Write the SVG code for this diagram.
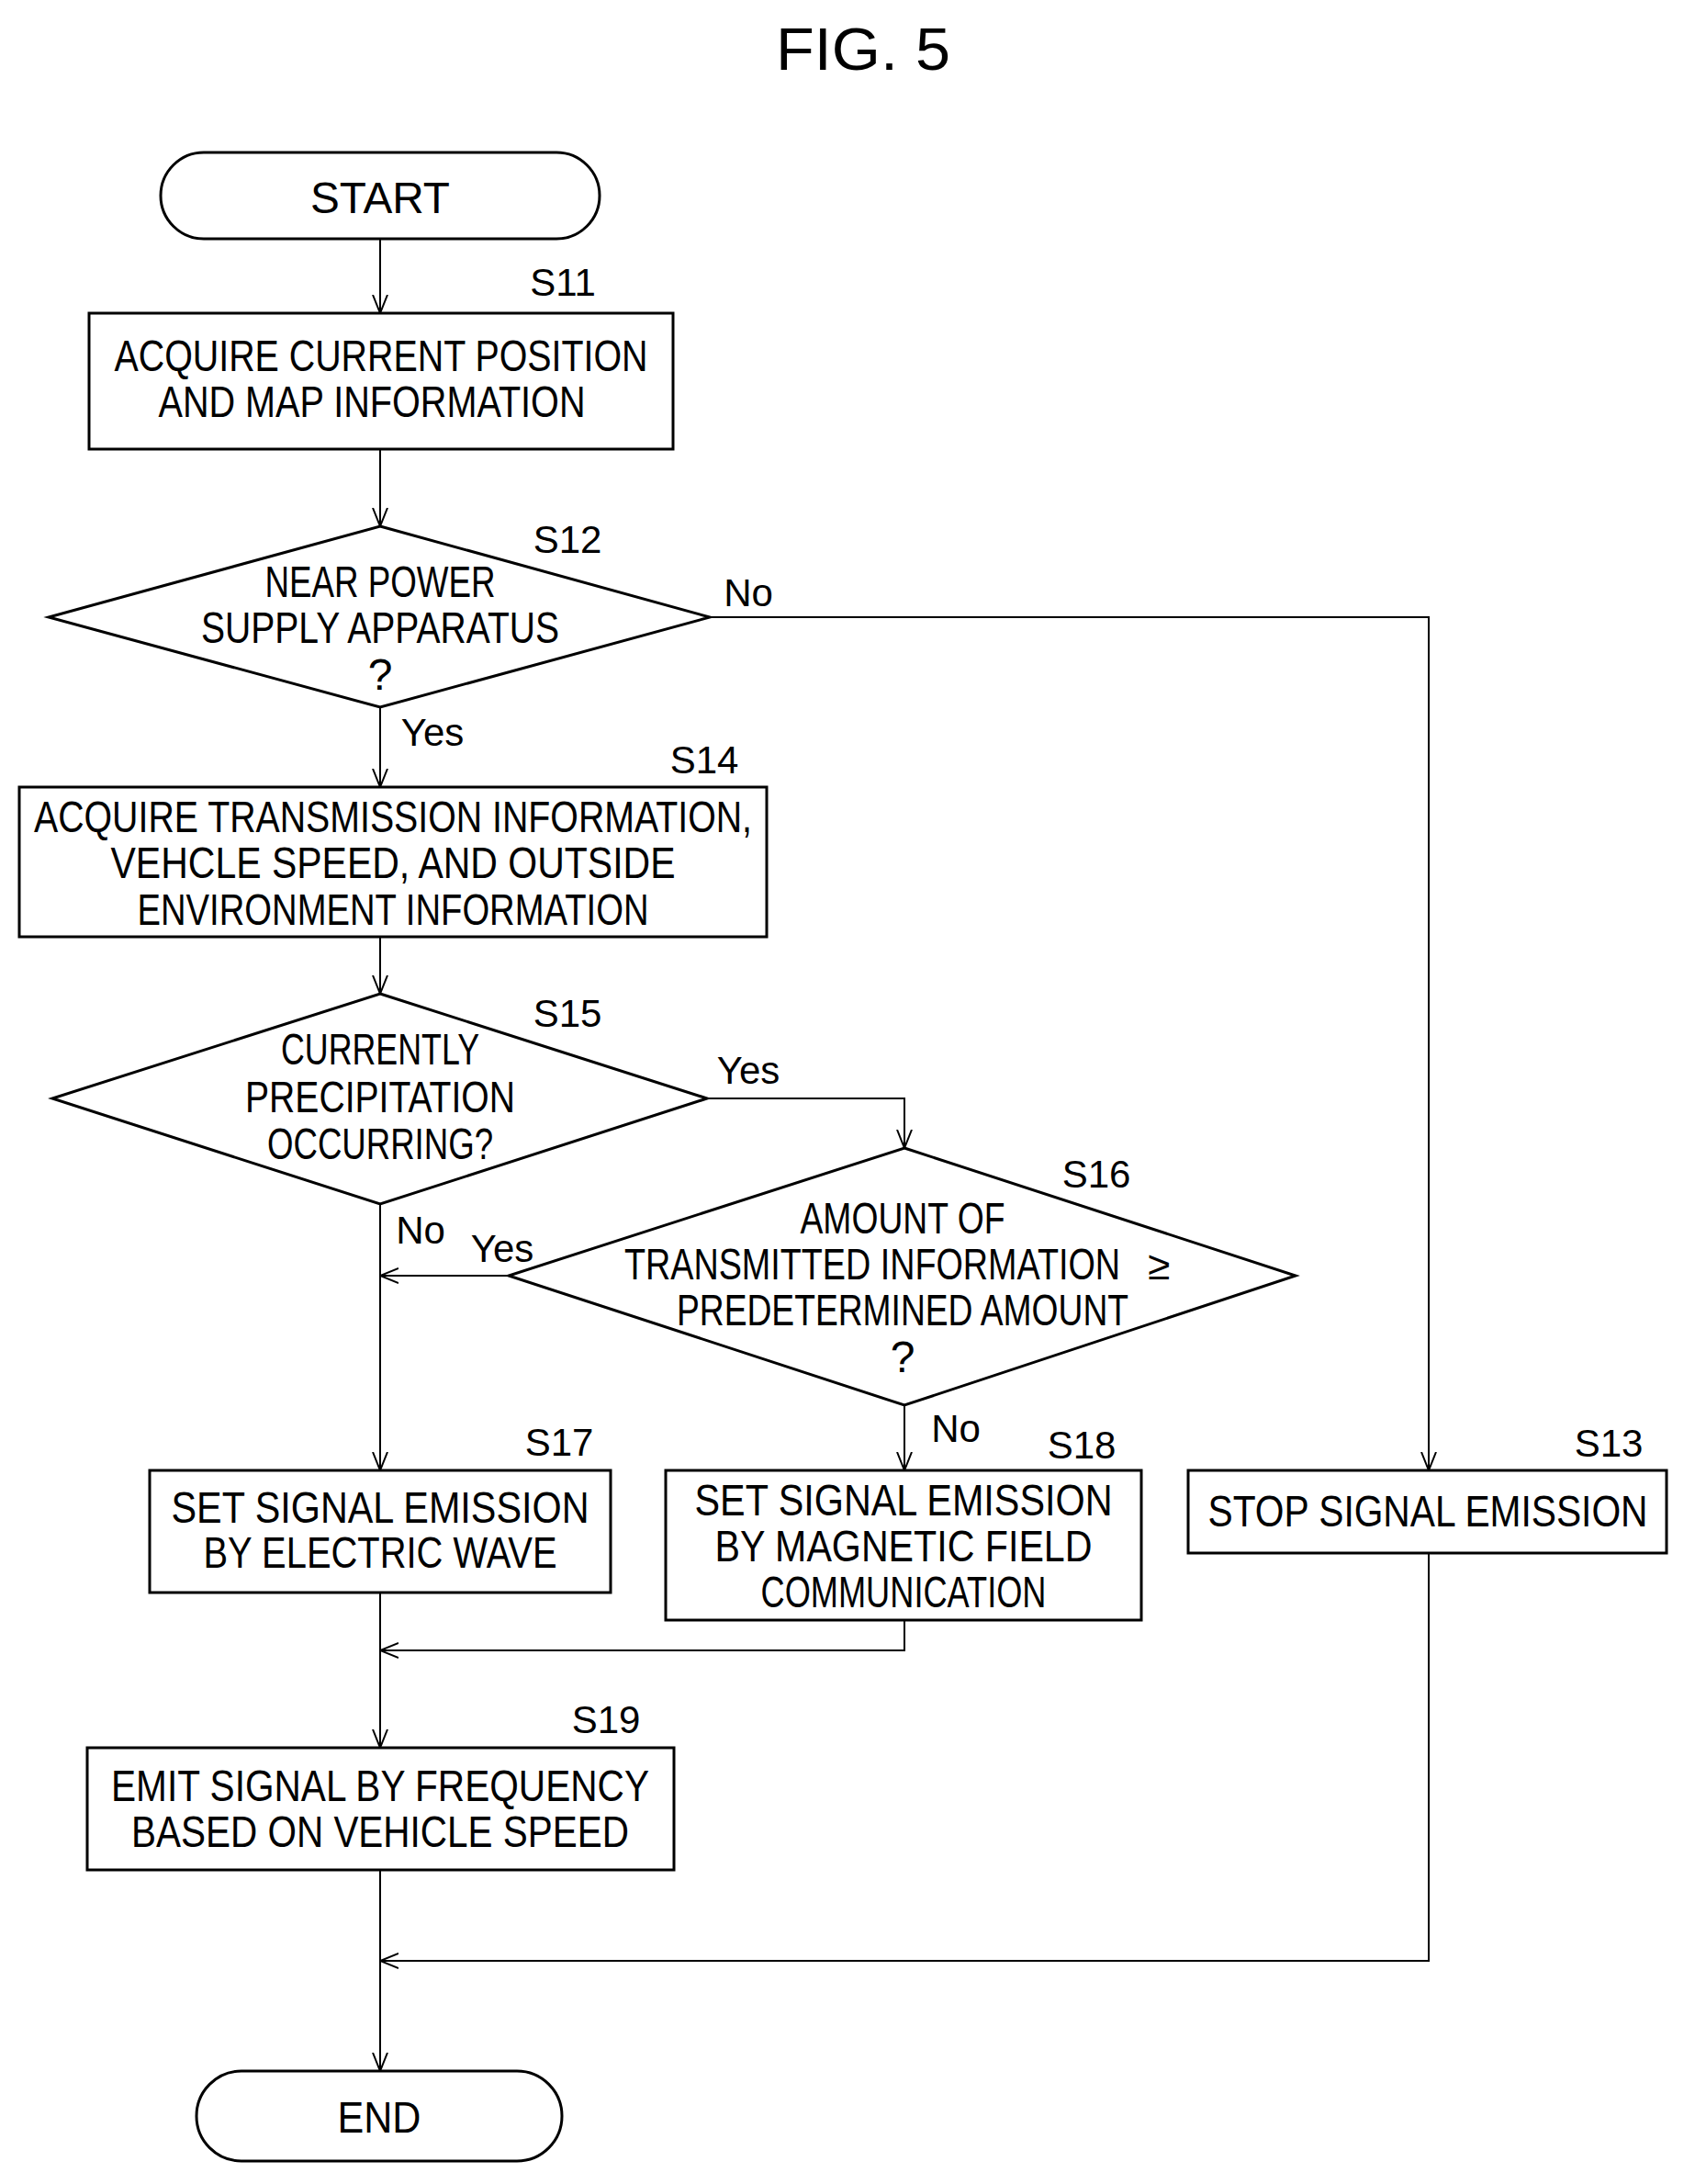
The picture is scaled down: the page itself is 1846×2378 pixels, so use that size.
<svg xmlns="http://www.w3.org/2000/svg" width="1846" height="2378" viewBox="0 0 1846 2378">
<defs>
<marker id="ah" viewBox="0 0 20 20" refX="20" refY="10" markerWidth="20" markerHeight="20" markerUnits="userSpaceOnUse" orient="auto"><path d="M0,2 L20,10 L0,18" fill="none" stroke="#000" stroke-width="2"/></marker>
<style>
.s{fill:#fff;stroke:#000;stroke-width:3}
.t{font-family:"Liberation Sans",Arial,sans-serif;font-size:48px;text-anchor:middle;fill:#000}
.l{font-family:"Liberation Sans",Arial,sans-serif;font-size:42px;text-anchor:middle;fill:#000}
.c{fill:none;stroke:#000;stroke-width:2;marker-end:url(#ah)}
.p{fill:none;stroke:#000;stroke-width:2}
</style>
</defs>
<rect width="1846" height="2378" fill="#fff"/>
<text class="t" x="940" y="76" style="font-size:64px" textLength="190" lengthAdjust="spacingAndGlyphs">FIG. 5</text>
<g id="connectors">
<path class="c" d="M414,260 V341"/>
<path class="c" d="M414,489 V573"/>
<path class="c" d="M414,770 V857"/>
<path class="c" d="M773,672 H1556 V1601"/>
<path class="c" d="M414,1020 V1082"/>
<path class="c" d="M770,1196 H985 V1250"/>
<path class="c" d="M554,1389 H414"/>
<path class="c" d="M414,1311 V1601"/>
<path class="c" d="M985,1530 V1601"/>
<path class="c" d="M985,1764 V1797 H414"/>
<path class="c" d="M414,1734 V1903"/>
<path class="c" d="M1556,1691 V2135 H414"/>
<path class="c" d="M414,2036 V2255"/>
<text class="l" x="815" y="660">No</text>
<text class="l" x="471" y="812">Yes</text>
<text class="l" x="815" y="1180">Yes</text>
<text class="l" x="547" y="1374">Yes</text>
<text class="l" x="458" y="1354">No</text>
<text class="l" x="1041" y="1570">No</text>
</g>
<g id="start"><rect class="s" x="175" y="166" width="478" height="94" rx="47"/><text class="t" x="414" y="232" textLength="152" lengthAdjust="spacingAndGlyphs">START</text></g>
<g id="s11"><rect class="s" x="97" y="341" width="636" height="148"/><text class="l" x="613" y="322">S11</text>
<text class="t" x="415" y="404" textLength="581" lengthAdjust="spacingAndGlyphs">ACQUIRE CURRENT POSITION</text>
<text class="t" x="405" y="454" textLength="465" lengthAdjust="spacingAndGlyphs">AND MAP INFORMATION</text></g>
<g id="s12"><polygon class="s" points="414,573 773,672 414,770 53,672"/><text class="l" x="618" y="602">S12</text>
<text class="t" x="414" y="650" textLength="251" lengthAdjust="spacingAndGlyphs">NEAR POWER</text>
<text class="t" x="414" y="700" textLength="390" lengthAdjust="spacingAndGlyphs">SUPPLY APPARATUS</text>
<text class="t" x="414" y="751">?</text></g>
<g id="s14"><rect class="s" x="21" y="857" width="814" height="163"/><text class="l" x="767" y="842">S14</text>
<text class="t" x="428" y="906" textLength="782" lengthAdjust="spacingAndGlyphs">ACQUIRE TRANSMISSION INFORMATION,</text>
<text class="t" x="428" y="956" textLength="615" lengthAdjust="spacingAndGlyphs">VEHCLE SPEED, AND OUTSIDE</text>
<text class="t" x="428" y="1007" textLength="557" lengthAdjust="spacingAndGlyphs">ENVIRONMENT INFORMATION</text></g>
<g id="s15"><polygon class="s" points="414,1082 770,1196 414,1311 57,1196"/><text class="l" x="618" y="1118">S15</text>
<text class="t" x="414" y="1159" textLength="216" lengthAdjust="spacingAndGlyphs">CURRENTLY</text>
<text class="t" x="414" y="1211" textLength="294" lengthAdjust="spacingAndGlyphs">PRECIPITATION</text>
<text class="t" x="414" y="1262" textLength="246" lengthAdjust="spacingAndGlyphs">OCCURRING?</text></g>
<g id="s16"><polygon class="s" points="985,1250 1411,1389 985,1530 554,1389"/><text class="l" x="1194" y="1293">S16</text>
<text class="t" x="983" y="1343" textLength="223" lengthAdjust="spacingAndGlyphs">AMOUNT OF</text>
<text class="t" x="950" y="1393" textLength="540" lengthAdjust="spacingAndGlyphs">TRANSMITTED INFORMATION</text>
<text class="t" x="1262" y="1393" style="font-size:44px">≥</text>
<text class="t" x="983" y="1443" textLength="492" lengthAdjust="spacingAndGlyphs">PREDETERMINED AMOUNT</text>
<text class="t" x="983" y="1494">?</text></g>
<g id="s17"><rect class="s" x="163" y="1601" width="502" height="133"/><text class="l" x="609" y="1585">S17</text>
<text class="t" x="414" y="1658" textLength="455" lengthAdjust="spacingAndGlyphs">SET SIGNAL EMISSION</text>
<text class="t" x="414" y="1707" textLength="385" lengthAdjust="spacingAndGlyphs">BY ELECTRIC WAVE</text></g>
<g id="s18"><rect class="s" x="725" y="1601" width="518" height="163"/><text class="l" x="1178" y="1588">S18</text>
<text class="t" x="984" y="1650" textLength="455" lengthAdjust="spacingAndGlyphs">SET SIGNAL EMISSION</text>
<text class="t" x="984" y="1700" textLength="411" lengthAdjust="spacingAndGlyphs">BY MAGNETIC FIELD</text>
<text class="t" x="984" y="1750" textLength="311" lengthAdjust="spacingAndGlyphs">COMMUNICATION</text></g>
<g id="s13"><rect class="s" x="1294" y="1601" width="521" height="90"/><text class="l" x="1752" y="1586">S13</text>
<text class="t" x="1555" y="1662" textLength="479" lengthAdjust="spacingAndGlyphs">STOP SIGNAL EMISSION</text></g>
<g id="s19"><rect class="s" x="95" y="1903" width="639" height="133"/><text class="l" x="660" y="1887">S19</text>
<text class="t" x="414" y="1961" textLength="586" lengthAdjust="spacingAndGlyphs">EMIT SIGNAL BY FREQUENCY</text>
<text class="t" x="414" y="2011" textLength="542" lengthAdjust="spacingAndGlyphs">BASED ON VEHICLE SPEED</text></g>
<g id="end"><rect class="s" x="214" y="2255" width="398" height="98" rx="49"/><text class="t" x="413" y="2322" textLength="91" lengthAdjust="spacingAndGlyphs">END</text></g>
</svg>
